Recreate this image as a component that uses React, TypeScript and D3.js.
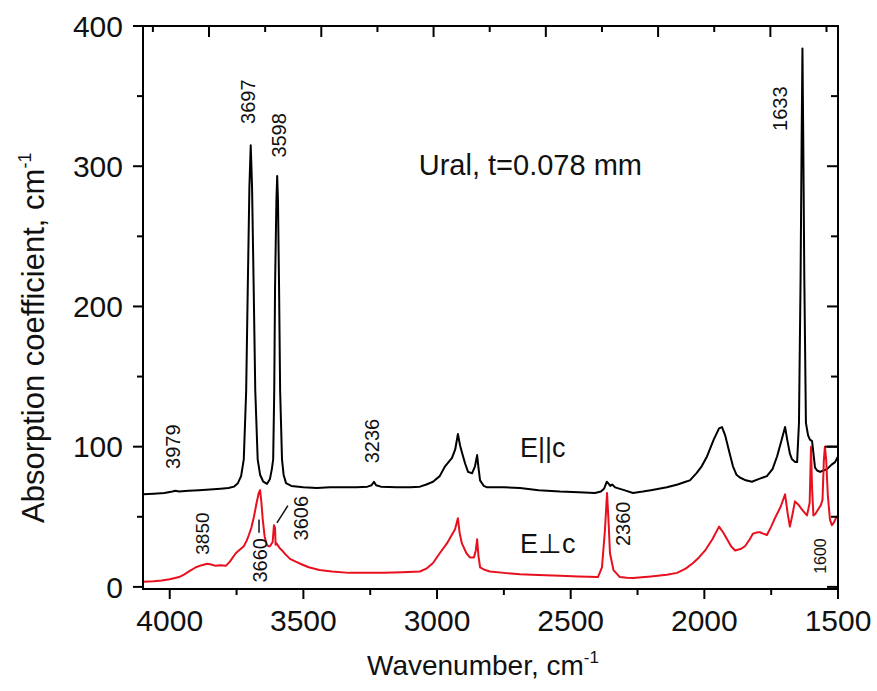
import React from "react";
import * as d3 from "d3";

// E||c spectrum (black), [wavenumber, absorption]
const parallel = [
  [4100, 66], [4060, 66.5], [4020, 67], [3990, 68], [3979, 68.5], [3965, 68], [3930, 68.5],
  [3890, 69], [3850, 69.5], [3810, 70], [3780, 70.5], [3760, 71.5], [3745, 74], [3733, 79],
  [3723, 91], [3714, 140], [3708, 214], [3702, 285], [3697, 315], [3692, 285], [3686, 214],
  [3680, 140], [3671, 91], [3662, 80], [3650, 75], [3636, 73.5], [3625, 77], [3618, 84],
  [3613, 91], [3609, 140], [3606, 214], [3601, 275], [3598, 293], [3595, 275], [3591, 214],
  [3587, 140], [3580, 91], [3574, 80], [3565, 74], [3545, 72], [3500, 71], [3450, 70.5],
  [3400, 71], [3350, 71], [3300, 71], [3260, 71.5], [3245, 72.5], [3236, 75], [3228, 72.5],
  [3210, 71.5], [3150, 71], [3100, 71], [3064, 71.5], [3040, 73], [3015, 75], [2990, 79],
  [2970, 86], [2944, 92], [2932, 98], [2922, 109], [2914, 101], [2907, 96], [2895, 88],
  [2884, 82], [2869, 81], [2858, 86], [2850, 94], [2845, 85], [2839, 76], [2825, 72],
  [2813, 71], [2750, 71], [2690, 70.5], [2620, 69], [2540, 68], [2470, 67.5], [2409, 67],
  [2387, 68], [2375, 70], [2365, 75], [2360, 74], [2352, 72], [2345, 73], [2334, 71],
  [2300, 69], [2267, 67], [2230, 68], [2200, 69], [2170, 70], [2140, 71], [2100, 73],
  [2070, 75], [2054, 76], [2030, 81], [2010, 86], [1990, 93], [1965, 105], [1945, 113],
  [1934, 114], [1922, 108], [1905, 95], [1893, 86], [1880, 80], [1867, 78], [1845, 76],
  [1822, 75], [1795, 77], [1766, 79], [1745, 84], [1728, 93], [1712, 104], [1698, 114],
  [1690, 105], [1680, 95], [1672, 91], [1660, 89], [1653, 89], [1646, 117], [1640, 220],
  [1636, 320], [1633, 384], [1630, 320], [1626, 220], [1620, 117], [1612, 108], [1605, 105],
  [1597, 104], [1590, 92], [1586, 85], [1578, 83], [1567, 82], [1555, 83], [1541, 84],
  [1525, 87], [1511, 89], [1500, 93],
];

// E⊥c spectrum (red)
const perpendicular = [
  [4100, 3.6], [4060, 4], [4030, 4.5], [4000, 5.5], [3965, 7], [3945, 9], [3928, 11],
  [3902, 14], [3880, 15.5], [3860, 16.5], [3845, 16], [3828, 15], [3810, 15.5], [3790, 15],
  [3775, 18], [3753, 24], [3735, 27], [3723, 29], [3712, 33], [3704, 37], [3695, 42],
  [3685, 50], [3675, 60], [3667, 67], [3662, 69], [3657, 60], [3652, 48], [3645, 36],
  [3637, 30], [3630, 29], [3625, 29], [3615, 32], [3610, 44], [3606, 42], [3604, 30],
  [3600, 31], [3590, 28], [3580, 26], [3566, 23], [3550, 20], [3529, 18], [3505, 16],
  [3480, 14], [3440, 12], [3393, 11], [3330, 10], [3266, 10], [3200, 10], [3130, 10.5],
  [3064, 11], [3040, 13], [3015, 17], [2990, 24], [2963, 31], [2945, 37], [2933, 41],
  [2922, 49], [2915, 38], [2907, 31], [2890, 24], [2877, 21], [2862, 21], [2855, 26],
  [2850, 34], [2845, 22], [2839, 14], [2820, 12], [2802, 11], [2750, 10], [2690, 9],
  [2620, 8.5], [2540, 8], [2470, 7.5], [2398, 7], [2383, 14], [2372, 40], [2364, 67],
  [2358, 45], [2353, 24], [2340, 12], [2316, 7], [2290, 6.5], [2267, 6.4], [2200, 7.5],
  [2140, 8.6], [2102, 10], [2070, 13], [2042, 17], [2020, 21], [1997, 26], [1970, 34],
  [1945, 43], [1930, 39], [1915, 34], [1900, 29], [1885, 26], [1865, 27], [1848, 29],
  [1830, 34], [1818, 38], [1800, 39], [1792, 39], [1780, 38], [1766, 37], [1750, 43],
  [1736, 49], [1715, 57], [1698, 66], [1688, 52], [1680, 43], [1670, 52], [1661, 61],
  [1650, 59], [1642, 57], [1630, 54], [1616, 51], [1606, 60], [1601, 100], [1597, 70],
  [1592, 51], [1585, 52], [1575, 55], [1565, 58], [1558, 62], [1553, 90], [1549, 100],
  [1544, 90], [1538, 65], [1530, 48], [1523, 44], [1515, 46], [1508, 49], [1500, 51],
];

// flat cap drawn over the clipped red band at the right edge
const capSegment = [[1549, 100], [1500, 100]];

const xTicks = [4000, 3500, 3000, 2500, 2000, 1500];
const xMinorTicks = [3750, 3250, 2750, 2250, 1750];
const yTicks = [0, 100, 200, 300, 400];
const yMinorTicks = [50, 150, 250, 350];
const topTicks = [4063, 3853, 3643, 3433, 3223, 3013, 2803, 2593, 2383, 2173, 1963, 1753, 1543];

// peak annotations: label, anchor wavenumber, anchor value, font size
const peakLabels = [
  { text: "3697", w: 3709, v: 346, size: 20 },
  { text: "3598", w: 3593, v: 322, size: 20 },
  { text: "1633", w: 1717, v: 341, size: 20 },
  { text: "3979", w: 3990, v: 100, size: 20 },
  { text: "3236", w: 3245, v: 104, size: 20 },
  { text: "3850", w: 3879, v: 38, size: 19 },
  { text: "3660", w: 3662, v: 19, size: 20 },
  { text: "3606", w: 3509, v: 49, size: 20 },
  { text: "2360", w: 2304, v: 45, size: 20 },
  { text: "1600", w: 1567, v: 22, size: 16 },
];
const leaders = [
  [[3666, 48], [3666, 38.6]],
  [[3599, 45.7], [3558, 57.9]],
];

const font = "'Liberation Sans', Arial, Helvetica, sans-serif";

export default function App() {
  const width = 877;
  const height = 691;
  const left = 143, right = 838, top = 26, bottom = 589;

  const x = d3.scaleLinear().domain([4100, 1500]).range([left, right]);
  const y = d3.scaleLinear().domain([-1.5, 400]).range([bottom, top]);

  const line = d3
    .line<number[]>()
    .x(d => x(d[0]))
    .y(d => y(d[1]));

  return (
    <svg
      width={width}
      height={height}
      style={{ position: "absolute", left: 0, top: 0, background: "#fff" }}
      fontFamily={font}
    >
      <rect width={width} height={height} fill="#fff" />

      <path d={line(parallel) || ""} fill="none" stroke="#000" strokeWidth={2} strokeLinejoin="round" />
      <path d={line(perpendicular) || ""} fill="none" stroke="#e8101e" strokeWidth={2} strokeLinejoin="round" />
      <path d={line(capSegment) || ""} fill="none" stroke="#000" strokeWidth={2} />

      {/* frame */}
      <rect x={left} y={top} width={right - left} height={bottom - top} fill="none" stroke="#000" strokeWidth={2} />

      {/* bottom axis */}
      {xTicks.map(t => (
        <g key={"xt" + t}>
          <line x1={x(t)} x2={x(t)} y1={bottom} y2={bottom + 10} stroke="#000" strokeWidth={2} />
          <text x={x(t)} y={bottom + 42} textAnchor="middle" fontSize={30} fill="#111">{t}</text>
        </g>
      ))}
      {xMinorTicks.map(t => (
        <line key={"xm" + t} x1={x(t)} x2={x(t)} y1={bottom} y2={bottom + 6} stroke="#000" strokeWidth={2} />
      ))}
      {topTicks.map((t, i) => (
        <line key={"tt" + t} x1={x(t)} x2={x(t)} y1={top} y2={top + (i % 2 ? 11 : 6)} stroke="#000" strokeWidth={2} />
      ))}

      {/* left / right axes */}
      {yTicks.map(t => (
        <g key={"yt" + t}>
          <line x1={left - 10} x2={left} y1={y(t)} y2={y(t)} stroke="#000" strokeWidth={2} />
          <line x1={right - 11} x2={right} y1={y(t)} y2={y(t)} stroke="#000" strokeWidth={2} />
          <text x={left - 20} y={y(t)} dy="0.36em" textAnchor="end" fontSize={30} fill="#111">{t}</text>
        </g>
      ))}
      {yMinorTicks.map(t => (
        <g key={"ym" + t}>
          <line x1={left - 6} x2={left} y1={y(t)} y2={y(t)} stroke="#000" strokeWidth={2} />
          <line x1={right - 7} x2={right} y1={y(t)} y2={y(t)} stroke="#000" strokeWidth={2} />
        </g>
      ))}

      {/* axis titles */}
      <text x={367} y={675} fontSize={28} fill="#111">
        Wavenumber, cm<tspan dy={-12} fontSize={17}>-1</tspan>
      </text>
      <text transform="translate(44,523) rotate(-90)" fontSize={31} fill="#111">
        Absorption coefficient, cm<tspan dy={-13} fontSize={18}>-1</tspan>
      </text>

      {/* annotations */}
      <text x={642} y={175} textAnchor="end" fontSize={29} fill="#111">Ural, t=0.078 mm</text>
      <text x={520} y={457} fontSize={27} fill="#111">E||c</text>
      <text x={520} y={553} fontSize={27} fill="#111">E⊥c</text>

      {peakLabels.map(p => (
        <text
          key={p.text}
          transform={`translate(${x(p.w)},${y(p.v)}) rotate(-90)`}
          textAnchor="middle"
          dy="0.36em"
          fontSize={p.size}
          fill="#111"
        >
          {p.text}
        </text>
      ))}
      {leaders.map((l, i) => (
        <path key={"ld" + i} d={line(l) || ""} stroke="#111" strokeWidth={1.5} fill="none" />
      ))}
    </svg>
  );
}
